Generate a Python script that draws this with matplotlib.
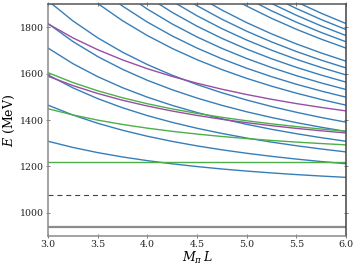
import matplotlib
matplotlib.use("Agg")
import matplotlib.pyplot as plt

plt.rcParams['font.family'] = ['DejaVu Serif']
plt.rcParams['mathtext.fontset'] = 'dejavuserif'

# M_pi L sample points
mpiL = [3.0, 3.25, 3.5, 3.75, 4.0, 4.25, 4.5, 4.75, 5.0, 5.25, 5.5, 5.75, 6.0]

# Non-interacting N pi levels (MeV), shells n = |d|^2
e_npi_1 = [1308.6, 1282.0, 1259.7, 1241.0, 1225.1, 1211.4, 1199.6, 1189.2, 1180.2, 1172.2, 1165.1, 1158.8, 1153.1]
e_npi_2 = [1464.1, 1421.6, 1386.0, 1356.0, 1330.2, 1308.0, 1288.7, 1271.8, 1256.9, 1243.7, 1231.9, 1221.3, 1211.8]
e_npi_3 = [1594.3, 1538.8, 1492.3, 1452.9, 1419.1, 1390.0, 1364.6, 1342.3, 1322.5, 1305.0, 1289.4, 1275.4, 1262.7]
e_npi_4 = [1710.0, 1643.0, 1586.9, 1539.3, 1498.5, 1463.2, 1432.4, 1405.4, 1381.5, 1360.2, 1341.2, 1324.1, 1308.6]
e_npi_5 = [1815.7, 1738.3, 1673.5, 1618.5, 1571.2, 1530.4, 1494.7, 1463.4, 1435.6, 1411.0, 1388.9, 1369.0, 1351.1]
e_npi_6 = [1913.9, 1827.1, 1754.2, 1692.2, 1639.1, 1593.1, 1552.9, 1517.6, 1486.3, 1458.4, 1433.5, 1411.0, 1390.8]
e_npi_8 = [2093.9, 1989.8, 1902.2, 1827.8, 1763.9, 1708.5, 1660.0, 1617.4, 1579.6, 1546.0, 1515.8, 1488.7, 1464.1]
e_npi_9 = [2177.4, 2065.3, 1971.1, 1890.9, 1822.0, 1762.3, 1710.0, 1664.0, 1623.2, 1586.9, 1554.3, 1525.0, 1498.5]
e_npi_10 = [2257.4, 2137.8, 2037.2, 1951.5, 1877.8, 1813.9, 1758.0, 1708.8, 1665.1, 1626.2, 1591.3, 1559.9, 1531.5]
e_npi_11 = [2334.3, 2207.6, 2100.8, 2009.9, 1931.7, 1863.8, 1804.3, 1752.0, 1705.6, 1664.2, 1627.1, 1593.7, 1563.4]
e_npi_12 = [2408.6, 2275.0, 2162.3, 2066.3, 1983.7, 1912.0, 1849.2, 1793.8, 1744.7, 1701.0, 1661.7, 1626.4, 1594.3]
e_npi_13 = [2480.4, 2340.2, 2221.9, 2121.0, 2034.2, 1958.7, 1892.7, 1834.4, 1782.8, 1736.7, 1695.3, 1658.1, 1624.4]
e_npi_14 = [2550.1, 2403.4, 2279.7, 2174.1, 2083.2, 2004.1, 1934.9, 1873.9, 1819.7, 1771.4, 1728.1, 1689.0, 1653.6]
e_npi_16 = [2683.6, 2524.8, 2390.6, 2276.1, 2177.4, 2091.5, 2016.3, 1949.9, 1890.9, 1838.3, 1791.1, 1748.5, 1710.0]
e_npi_17 = [2747.8, 2583.2, 2444.1, 2325.2, 2222.8, 2133.7, 2055.5, 1986.5, 1925.3, 1870.6, 1821.6, 1777.3, 1737.2]
e_npi_18 = [2810.5, 2640.2, 2496.3, 2373.3, 2267.2, 2174.8, 2093.9, 2022.4, 1958.9, 1902.3, 1851.4, 1805.5, 1763.9]
e_npi_19 = [2871.7, 2695.9, 2547.3, 2420.2, 2310.6, 2215.2, 2131.5, 2057.6, 1991.9, 1933.2, 1880.6, 1833.1, 1790.0]
e_npi_20 = [2931.5, 2750.4, 2597.3, 2466.2, 2353.2, 2254.7, 2168.3, 2091.9, 2024.2, 1963.6, 1909.2, 1860.1, 1815.7]

# N pi pi levels (green: N pi + pi at rest; purple: N at rest + pi pi)
e_nbpipi_0 = [1219.0, 1219.0, 1219.0, 1219.0, 1219.0, 1219.0, 1219.0, 1219.0, 1219.0, 1219.0, 1219.0, 1219.0, 1219.0]
e_nbpipi_1 = [1448.6, 1422.0, 1399.7, 1381.0, 1365.1, 1351.4, 1339.6, 1329.2, 1320.2, 1312.2, 1305.1, 1298.8, 1293.1]
e_nbpipi_2 = [1604.1, 1561.6, 1526.0, 1496.0, 1470.2, 1448.0, 1428.7, 1411.8, 1396.9, 1383.7, 1371.9, 1361.3, 1351.8]
e_npipi_1 = [1588.8, 1548.4, 1514.4, 1485.3, 1460.4, 1438.8, 1419.9, 1403.3, 1388.7, 1375.7, 1364.1, 1353.7, 1344.4]
e_npipi_2 = [1814.3, 1754.1, 1703.0, 1659.1, 1621.1, 1587.9, 1558.7, 1532.9, 1510.0, 1489.4, 1471.0, 1454.4, 1439.4]

# thresholds
m_nucleon = 939.0
npi_threshold = 1079.0

yticks = [1000, 1200, 1400, 1600, 1800]
xticks = [3.0, 3.5, 4.0, 4.5, 5.0, 5.5, 6.0]

blue = '#377eb8'
green = '#4daf4a'
purple = '#984ea3'

fig = plt.figure(figsize=(3.59, 2.68), dpi=100)
ax = fig.add_axes([0.134, 0.119, 0.830, 0.866])

blue_sets = [e_npi_1, e_npi_2, e_npi_3, e_npi_4, e_npi_5, e_npi_6, e_npi_8,
             e_npi_9, e_npi_10, e_npi_11, e_npi_12, e_npi_13, e_npi_14,
             e_npi_16, e_npi_17, e_npi_18, e_npi_19, e_npi_20]
for ys in blue_sets:
    ax.plot(mpiL, ys, color=blue, lw=1.0)

for ys in [e_nbpipi_0, e_nbpipi_1, e_nbpipi_2]:
    ax.plot(mpiL, ys, color=green, lw=1.0)
for ys in [e_npipi_1, e_npipi_2]:
    ax.plot(mpiL, ys, color=purple, lw=1.0)

ax.axhline(m_nucleon, color='#8c8c8c', lw=1.6)
ax.axhline(npi_threshold, color='#444444', lw=0.8, ls=(0, (4.5, 3.5)))

ax.set_xlim(3.0, 6.0)
ax.set_ylim(900, 1900)
ax.set_xticks(xticks)
ax.set_yticks(yticks)
ax.set_xticklabels(['%.1f' % v for v in xticks])

ax.spines['left'].set_color('#8a8a8a')
ax.spines['bottom'].set_color('#8a8a8a')
ax.spines['top'].set_color('#555555')
ax.spines['right'].set_color('#444444')
for sp in ax.spines.values():
    sp.set_linewidth(1.1)

ax.tick_params(axis='both', which='both', direction='inout', length=3,
               width=0.7, color='#7f7f7f', labelsize=6.8, labelcolor='#222222',
               top=True, right=True, pad=1.5)

ax.set_xlabel(r'$M_\pi\, L$', fontsize=9, labelpad=0.5)
ax.set_ylabel(r'$E$ (MeV)', fontsize=9, labelpad=2)

fig.savefig('out.png', dpi=100)
